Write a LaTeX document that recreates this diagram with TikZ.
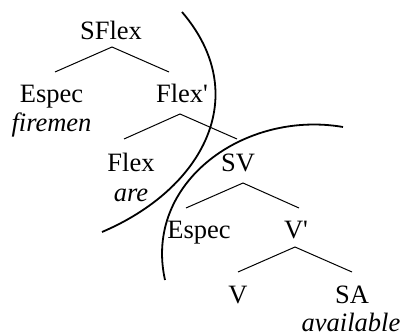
\documentclass[tikz,border=0pt]{standalone}
\usepackage{fontspec}
\setmainfont{Liberation Serif}
\begin{document}
\begin{tikzpicture}[x=1pt,y=-1pt,
  lbl/.style={anchor=base,inner sep=0pt,font=\fontsize{26.5}{30}\selectfont},
  word/.style={lbl,font=\fontsize{26.5}{30}\selectfont\itshape},
  branch/.style={line width=1pt},
  boundary/.style={line width=1.8pt}]
\useasboundingbox (0,0) rectangle (403,336);

% labels
\node[lbl]  (sflex)   at (111,40)  {SFlex};
\node[lbl]  (espec1)  at (51.5,103) {Espec};
\node[word] (firemen) at (51.5,132) {firemen};
\node[lbl]  (flexb)   at (182,103) {Flex\textquotesingle};
\node[lbl]  (flex)    at (131,172) {Flex};
\node[word] (are)     at (131,202) {are};
\node[lbl]  (sv)      at (238,172) {SV};
\node[lbl]  (espec2)  at (199,238) {Espec};
\node[lbl]  (vbar)    at (296,238) {V\textquotesingle};
\node[lbl]  (v)       at (238,303) {V};
\node[lbl]  (sa)      at (352,303) {SA};
\node[word] (avail)   at (351,331) {available};

% branch points
\coordinate (t1) at (112,47);  \coordinate (t1l) at (55,72);   \coordinate (t1r) at (169,72);
\coordinate (t2) at (180,114); \coordinate (t2l) at (124,139); \coordinate (t2r) at (237,139);
\coordinate (t3) at (243,183); \coordinate (t3l) at (186,208); \coordinate (t3r) at (299,208);
\coordinate (t4) at (295,247); \coordinate (t4l) at (238,272); \coordinate (t4r) at (352,272);

\draw[branch] (t1l) -- (t1) -- (t1r);
\draw[branch] (t2l) -- (t2) -- (t2r);
\draw[branch] (t3l) -- (t3) -- (t3r);
\draw[branch] (t4l) -- (t4) -- (t4r);

% domain boundaries
\coordinate (b1s) at (182,12);  \coordinate (b1e) at (102,232);
\coordinate (b2s) at (343,127); \coordinate (b2e) at (165,280);
\draw[boundary] (b1s) .. controls (253.5,95.6) and (203,189) .. (b1e);
\draw[boundary] (b2s) .. controls (244.5,110) and (143.3,182.4) .. (b2e);
\end{tikzpicture}
\end{document}
